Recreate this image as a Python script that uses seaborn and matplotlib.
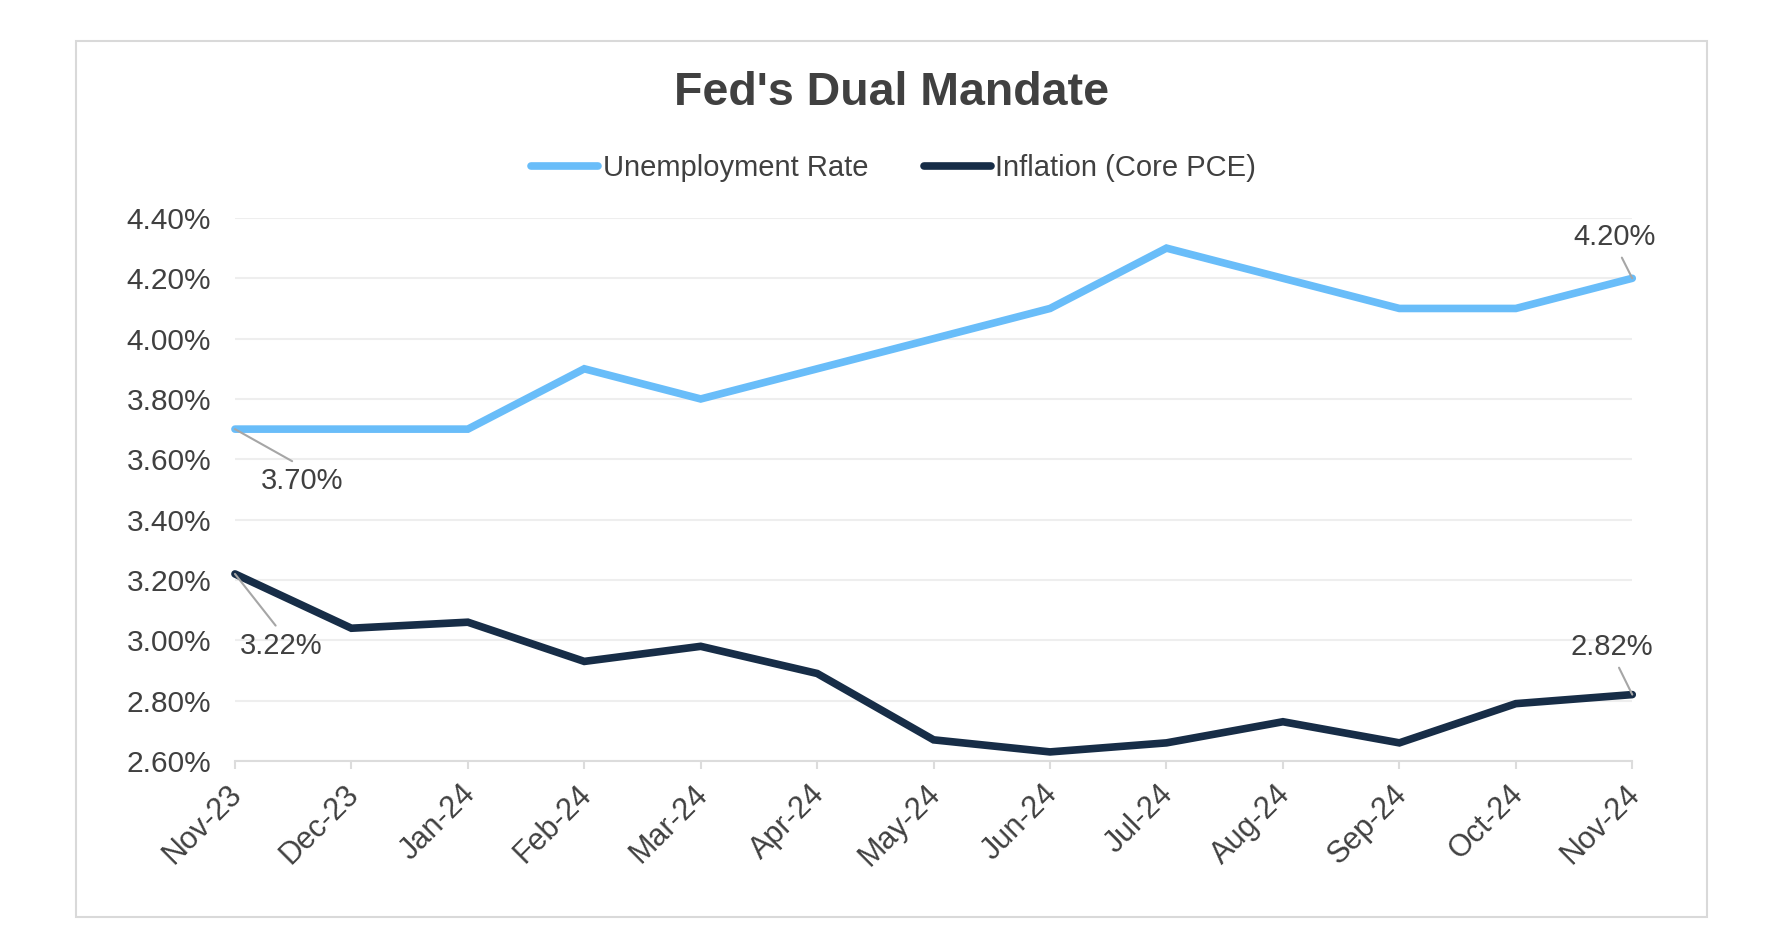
import numpy as np
import pandas as pd
import seaborn as sns
import matplotlib
matplotlib.use("Agg")
import matplotlib.pyplot as plt
from matplotlib.patches import Rectangle
from matplotlib.transforms import ScaledTranslation

# ---- data ----
months = ["Nov-23", "Dec-23", "Jan-24", "Feb-24", "Mar-24", "Apr-24", "May-24",
          "Jun-24", "Jul-24", "Aug-24", "Sep-24", "Oct-24", "Nov-24"]
unemployment = [3.70, 3.70, 3.70, 3.90, 3.80, 3.90, 4.00, 4.10, 4.30, 4.20, 4.10, 4.10, 4.20]
core_pce = [3.22, 3.04, 3.06, 2.93, 2.98, 2.89, 2.67, 2.63, 2.66, 2.73, 2.66, 2.79, 2.82]
series_names = ["Unemployment Rate", "Inflation (Core PCE)"]
colors = ["#69BDF9", "#172D47"]
y_ticks = [2.6, 2.8, 3.0, 3.2, 3.4, 3.6, 3.8, 4.0, 4.2, 4.4]

sns.set_theme(style="white")
plt.rcParams["font.family"] = ["Liberation Sans", "DejaVu Sans"]

idx = np.arange(len(months))
df = pd.DataFrame({
    "idx": np.concatenate([idx, idx]),
    "value": unemployment + core_pce,
    "series": [series_names[0]] * len(months) + [series_names[1]] * len(months),
})

fig = plt.figure(figsize=(17.8, 9.46), dpi=100)
fig.patch.set_facecolor("white")
ax = fig.add_axes([0.132, 0.1956, 0.785, 0.574])

sns.lineplot(data=df, x="idx", y="value", hue="series", hue_order=series_names,
             palette=colors, linewidth=5.5, ax=ax, legend=True, sort=False)
for ln in ax.get_lines():
    ln.set_clip_on(False)
    ln.set_solid_joinstyle("miter")

ax.set_xlim(0, len(months) - 1)
ax.set_ylim(y_ticks[0], y_ticks[-1])
ax.set_xticks(idx)
ax.set_xticklabels(months)
ax.set_yticks(y_ticks)
ax.set_yticklabels([f"{v:.2f}%" for v in y_ticks])
ax.set_xlabel("")
ax.set_ylabel("")

ax.grid(axis="y", color="#eeeeee", linewidth=1.5)
ax.grid(axis="x", visible=False)
ax.set_axisbelow(True)
for s in ["left", "right", "top"]:
    ax.spines[s].set_visible(False)
ax.spines["bottom"].set_color("#dcdcdc")
ax.spines["bottom"].set_linewidth(1.5)

ax.tick_params(axis="y", length=0, pad=17, labelsize=21.5, labelcolor="#404040")
ax.tick_params(axis="x", length=6, width=1.5, color="#dcdcdc", pad=7,
               labelsize=22, labelcolor="#404040", bottom=True)
offset = ScaledTranslation(-8 / 100, 0, fig.dpi_scale_trans)
for lab in ax.get_xticklabels():
    lab.set_rotation(45)
    lab.set_ha("right")
    lab.set_va("top")
    lab.set_rotation_mode("anchor")
    lab.set_transform(lab.get_transform() + offset)

# legend
handles, labels = ax.get_legend_handles_labels()
ax.get_legend().remove()
leg = fig.legend(handles, labels, loc="center", bbox_to_anchor=(0.502, 0.822),
                 ncol=2, frameon=False, fontsize=21, handlelength=2.3,
                 handletextpad=0.15, columnspacing=1.9)
for t in leg.get_texts():
    t.set_color("#404040")
for ln in leg.get_lines():
    ln.set_linewidth(5.5)
    ln.set_solid_capstyle("round")

# title
fig.text(0.5006, 0.902, "Fed's Dual Mandate", ha="center", va="center",
         fontsize=33.5, fontweight="bold", color="#404040")

# annotations
ann_color = "#a6a6a6"
annots = [
    (0, unemployment[0], (48, -37), (0.5, 1)),
    (0, core_pce[0], (33, -52), (0.5, 1)),
    (len(months) - 1, unemployment[-1], (-13, 30), (0.55, 0)),
    (len(months) - 1, core_pce[-1], (-15, 34.5), (0.55, 0)),
]
for x, v, off, rel in annots:
    ax.annotate(f"{v:.2f}%", xy=(x, v), xytext=off, textcoords="offset points",
                ha="center", va="center", fontsize=21, color="#404040",
                annotation_clip=False,
                arrowprops=dict(arrowstyle="-", color=ann_color, lw=1.5,
                                shrinkA=3, shrinkB=0, relpos=rel))

# outer frame
fig.patches.append(Rectangle((0.0427, 0.0307), 0.9163, 0.926, transform=fig.transFigure,
                             fill=False, edgecolor="#d9d9d9", linewidth=1.5))

fig.savefig("out.png", dpi=100, facecolor="white")
